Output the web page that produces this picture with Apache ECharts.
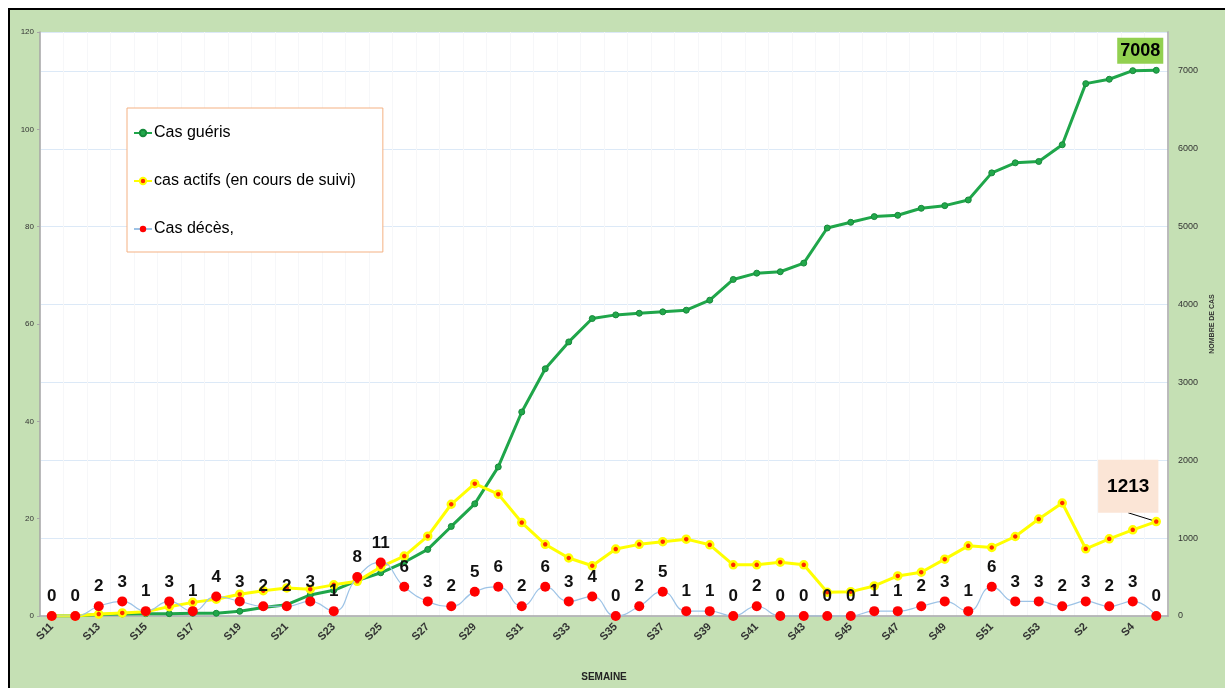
<!DOCTYPE html>
<html>
<head>
<meta charset="utf-8">
<script src="https://cdn.jsdelivr.net/npm/echarts@6/dist/echarts.min.js"></script>
<style>
  html, body { margin: 0; padding: 0; background: #fff; }
  #frame { position: absolute; left: 8px; top: 8px; width: 1230px; height: 700px;
           background: #c5e0b4; border-left: 2px solid #000; border-top: 2px solid #000; }
  #chartmain { position: absolute; left: 0; top: 0; width: 1225px; height: 688px; }
</style>
</head>
<body>
<div id="frame"></div>
<div id="chartmain"></div>
<script>
// semaines
var semaines = ['S11','S12','S13','S14','S15','S16','S17','S18','S19','S20',
	'S21','S22','S23','S24','S25','S26','S27','S28','S29','S30',
	'S31','S32','S33','S34','S35','S36','S37','S38','S39','S40',
	'S41','S42','S43','S44','S45','S46','S47','S48','S49','S50',
	'S51','S52','S53','S1','S2','S3','S4','S5'];
// cas guéris (axe droit)
var gueris = [0,0,20,25,30,30,35,35,60,110,
	145,270,330,455,555,690,855,1150,1440,1915,
	2620,3175,3520,3820,3867,3888,3906,3927,4056,4322,
	4403,4421,4532,4983,5056,5129,5146,5236,5270,5343,
	5691,5820,5837,6052,6837,6893,7003,7008];
// cas actifs (axe droit)
var actifs = [0,0,25,40,55,120,175,215,280,325,
	360,345,400,445,630,770,1025,1435,1700,1565,
	1200,920,745,645,860,920,955,987,914,657,
	657,691,657,305,313,386,515,562,730,901,
	880,1021,1245,1451,863,991,1107,1213];
// décès (axe gauche)
var deces = [0,0,2,3,1,3,1,4,3,2,
	2,3,1,8,11,6,3,2,5,6,
	2,6,3,4,0,2,5,1,1,0,
	2,0,0,0,0,1,1,2,3,1,
	6,3,3,2,3,2,3,0];

var last = semaines.length - 1;
var bold = '"Liberation Sans", Arial, sans-serif';

var guerisData = gueris.map(function(v, i) {
	if (i !== last) return v;
	return {
		value : v,
		label : {
			show : true,
			position : 'top',
			offset : [ -16, 0 ],
			distance : 3,
			fontFamily : bold,
			fontWeight : 'bold',
			fontSize : 18,
			lineHeight : 20,
			color : '#000',
			backgroundColor : '#92d050',
			padding : [ 3, 3, 3, 3 ]
		}
	};
});
var actifsData = actifs.map(function(v, i) {
	if (i !== last) return v;
	return {
		value : v,
		label : {
			show : true,
			position : 'top',
			distance : 8,
			fontFamily : bold,
			fontWeight : 'bold',
			fontSize : 19,
			lineHeight : 24,
			color : '#000',
			backgroundColor : '#fbe5d6',
			padding : [ 15, 9, 14, 9 ]
		},
		labelLine : {
			show : true,
			lineStyle : { color : '#000', width : 1 }
		}
	};
});

var option = {
	animation : false,
	textStyle : { fontFamily : '"Liberation Sans", Arial, sans-serif' },
	legend : {
		orient : 'vertical',
		left : 127,
		top : 108,
		padding : [ 17, 27, 15, 6 ],
		itemGap : 32,
		itemWidth : 18,
		itemHeight : 8,
		backgroundColor : '#fff',
		borderColor : '#f4b183',
		borderWidth : 1,
		textStyle : { fontSize : 16, color : '#000', padding : [ 0, 0, 0, -3 ] },
		data : [ 'Cas guéris', 'cas actifs (en cours de suivi)', 'Cas décès,' ]
	},
	grid : {
		left : 40,
		right : 57,
		top : 32,
		bottom : 72,
		show : true,
		backgroundColor : '#fff',
		borderWidth : 0
	},
	xAxis : {
		type : 'category',
		data : semaines,
		boundaryGap : true,
		name : 'SEMAINE',
		nameLocation : 'middle',
		nameGap : 56,
		nameTextStyle : { fontSize : 10, fontWeight : 'bold', color : '#222' },
		axisLine : { lineStyle : { color : '#a6a6a6', width : 1.5 } },
		axisTick : { show : false },
		axisLabel : {
			interval : 1,
			rotate : 45,
			fontSize : 11,
			fontWeight : 'bold',
			color : '#333',
			margin : 9
		},
		splitLine : { show : true, interval : 0, lineStyle : { color : '#f6f7f9' } }
	},
	yAxis : [ {
		type : 'value',
		min : 0,
		max : 120,
		interval : 20,
		position : 'left',
		axisLine : { show : true, lineStyle : { color : '#a6a6a6', width : 1.5 } },
		axisTick : { show : true, length : 3, lineStyle : { color : '#a6a6a6' } },
		axisLabel : { fontSize : 8, color : '#333', margin : 6 },
		splitLine : { show : false }
	}, {
		type : 'value',
		min : 0,
		max : 7500,
		interval : 1000,
		position : 'right',
		name : 'NOMBRE DE CAS',
		nameLocation : 'middle',
		nameRotate : 90,
		nameGap : 40,
		nameTextStyle : { fontSize : 7, fontWeight : 'bold', color : '#333' },
		axisLine : { show : true, lineStyle : { color : '#a6a6a6', width : 1.5 } },
		axisTick : { show : false },
		axisLabel : {
			fontSize : 9,
			color : '#333',
			margin : 10,
			showMaxLabel : false,
			formatter : function(v) { return String(v); }
		},
		splitLine : { show : true, lineStyle : { color : '#dce9f7', width : 1 } }
	} ],
	series : [ {
		name : 'Cas guéris',
		type : 'line',
		yAxisIndex : 1,
		data : guerisData,
		symbol : 'circle',
		symbolSize : 6,
		lineStyle : { color : '#1fa64a', width : 3 },
		itemStyle : { color : '#22a84b', borderColor : '#178a3b', borderWidth : 1 },
		z : 3
	}, {
		name : 'cas actifs (en cours de suivi)',
		type : 'line',
		yAxisIndex : 1,
		data : actifsData,
		symbol : 'circle',
		symbolSize : 7,
		lineStyle : { color : '#ffff00', width : 3 },
		itemStyle : { color : '#ff2a00', borderColor : '#ffff00', borderWidth : 2.5 },
		labelLayout : function(params) {
			if (params.dataIndex === last) {
				return { dx : -28, dy : 4 };
			}
		},
		z : 4
	}, {
		name : 'Cas décès,',
		type : 'line',
		yAxisIndex : 0,
		data : deces,
		smooth : true,
		symbol : 'circle',
		symbolSize : 10,
		lineStyle : { color : '#9dc3e6', width : 1.2 },
		itemStyle : { color : '#ff0000' },
		label : {
			show : true,
			position : 'top',
			distance : 6,
			fontFamily : bold,
			fontWeight : 'bold',
			fontSize : 17,
			color : '#111'
		},
		z : 5
	} ]
};
// initialisation du graphique
var myChart = echarts.init(document.getElementById('chartmain'));
myChart.setOption(option);
</script>
</body>
</html>
